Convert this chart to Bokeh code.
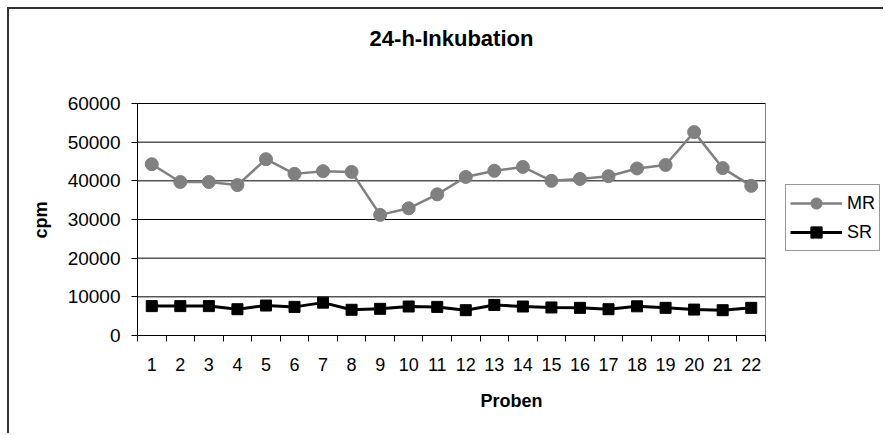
from bokeh.plotting import figure
from bokeh.models import (Range1d, FixedTicker, Legend, LegendItem,
                          NumeralTickFormatter, Label)
from bokeh.embed import file_html
from bokeh.resources import INLINE

# Sample numbers (x categories) and measured counts per minute
proben = list(range(1, 23))
mr = [44300, 39700, 39700, 38900, 45600, 41800, 42500, 42300, 31200, 32900, 36500,
      41000, 42600, 43600, 40000, 40500, 41200, 43200, 44100, 52600, 43300, 38700]
sr = [7600, 7600, 7600, 6800, 7750, 7400, 8500, 6650, 6900, 7500, 7400,
      6550, 7900, 7500, 7250, 7150, 6800, 7550, 7150, 6700, 6550, 7150]
y_ticks = [0, 10000, 20000, 30000, 40000, 50000, 60000]

FONT = "Liberation Sans"

# canvas size and the drawn plot area inside it (pixels)
W, H = 876, 426
LEFT, BOTTOM = 128, 100
DATA_W, DATA_H = 628, 232
FRAME_W, FRAME_H = W - LEFT, H - BOTTOM   # frame also holds title and legend
x0, x1 = 0.5, len(proben) + 0.5
y0, y1 = y_ticks[0], y_ticks[-1]
x_end = x0 + (x1 - x0) * FRAME_W / DATA_W
y_end = y0 + (y1 - y0) * FRAME_H / DATA_H

p = figure(width=W, height=H, output_backend="svg", toolbar_location=None,
           title=None,
           x_range=Range1d(x0, x_end), y_range=Range1d(y0, y_end),
           min_border_left=LEFT, min_border_right=0,
           min_border_top=0, min_border_bottom=BOTTOM)
# chart-area frame: only its left and top edges fall inside the page
p.styles = {"margin-left": "7px", "margin-top": "7px",
            "border-left": "2px solid #333333", "border-top": "2px solid #333333"}
p.background_fill_color = "white"
p.border_fill_color = "white"
p.outline_line_color = None

# title, centred over the plot area
p.add_layout(Label(x=DATA_W / 2, y=FRAME_H - 29, x_units="screen", y_units="screen",
                   text="24-h-Inkubation", text_align="center", text_baseline="middle",
                   text_font=FONT, text_font_size="22px", text_font_style="bold",
                   text_color="black"))

# x axis: labels on the samples, tick marks between them
xa = p.xaxis[0]
xa.bounds = (x0, x1)
xa.ticker = FixedTicker(ticks=proben, minor_ticks=[i + 0.5 for i in range(0, 23)])
xa.major_tick_out = 0
xa.major_tick_in = 0
xa.minor_tick_out = 6
xa.minor_tick_in = 0
xa.minor_tick_line_color = "black"
xa.axis_line_color = "black"
xa.major_label_text_font = FONT
xa.major_label_text_font_size = "18px"
xa.major_label_text_color = "black"
xa.major_label_standoff = 16
xa.axis_label = "Proben"
xa.axis_label_text_font = FONT
xa.axis_label_text_font_size = "18px"
xa.axis_label_text_font_style = "bold"
xa.axis_label_text_color = "black"
xa.axis_label_standoff = 17

# y axis; the label is padded with no-break spaces so that "cpm" sits
# at the middle of the plot area rather than of the taller frame
ya = p.yaxis[0]
ya.bounds = (y0, y1)
ya.ticker = FixedTicker(ticks=y_ticks)
ya.formatter = NumeralTickFormatter(format="0")
ya.major_tick_out = 6
ya.major_tick_in = 0
ya.minor_tick_out = 0
ya.minor_tick_in = 0
ya.major_tick_line_color = "black"
ya.axis_line_color = "black"
ya.major_label_text_font = FONT
ya.major_label_text_font_size = "19px"
ya.major_label_text_color = "black"
ya.major_label_standoff = 11
ya.axis_label = "cpm" + "\u00a0" * 19
ya.axis_label_text_font = FONT
ya.axis_label_text_font_size = "18px"
ya.axis_label_text_font_style = "bold"
ya.axis_label_text_color = "black"
ya.axis_label_standoff = 14

# horizontal gridlines and plot-area border, limited to the data part
p.xgrid.visible = False
p.ygrid.visible = False
p.segment(x0=[x0] * len(y_ticks), x1=[x1] * len(y_ticks), y0=y_ticks, y1=y_ticks,
          line_color="black", line_width=1)
p.segment(x0=[x1], x1=[x1], y0=[y0], y1=[y1], line_color="#808080", line_width=1)

# series
mr_line = p.line(proben, mr, line_color="#808080", line_width=2.5)
mr_pts = p.scatter(proben, mr, marker="circle", size=13,
                   fill_color="#808080", line_color="#808080")
sr_line = p.line(proben, sr, line_color="black", line_width=3)
sr_pts = p.scatter(proben, sr, marker="square", size=11,
                   fill_color="black", line_color="black")

# legend to the right of the plot area
legend = Legend(items=[LegendItem(label="MR", renderers=[mr_line, mr_pts]),
                       LegendItem(label="SR", renderers=[sr_line, sr_pts])],
                location=(DATA_W + 20, 84), orientation="vertical")
legend.margin = 0
legend.padding = 4
legend.spacing = 1
legend.glyph_width = 52
legend.glyph_height = 28
legend.label_standoff = 5
legend.label_height = 28
legend.label_text_font = FONT
legend.label_text_font_size = "18px"
legend.label_text_color = "black"
legend.border_line_color = "#333333"
legend.border_line_width = 1
legend.background_fill_color = "white"
legend.background_fill_alpha = 1
p.add_layout(legend)

open("out.html", "w").write(file_html(p, INLINE))
